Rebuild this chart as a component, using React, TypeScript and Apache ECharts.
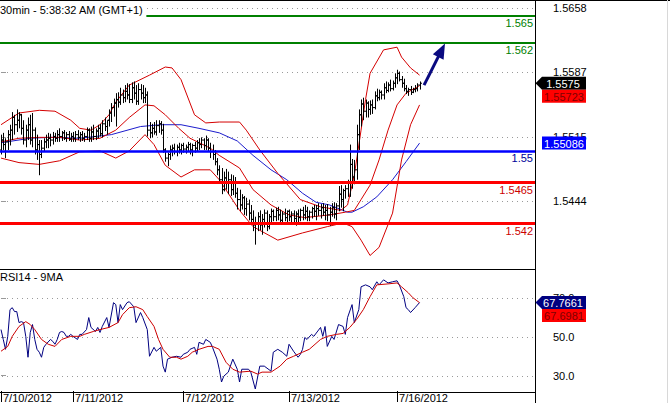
import React, { useEffect, useRef } from "react";
import * as echarts from "echarts";

const FONT = '"Liberation Sans", Arial, sans-serif';

const titleText = "30min - 5:38:32 AM (GMT+1)";
const rsiTitle = "RSI14 - 9MA";

const dates = ["7/10/2012", "7/11/2012", "7/12/2012", "7/13/2012", "7/16/2012"];
const dateBars = [0, 32, 81, 128, 176];

const priceTicks = [1.5444, 1.5515, 1.5587, 1.5658];
const rsiTicks = [30, 50, 70];

const levels = [1.565, 1.562, 1.55, 1.5465, 1.542];
const levelLabels = ["1.565", "1.562", "1.55", "1.5465", "1.542"];
const levelColors = ["#008000", "#008000", "#0000ff", "#ff0000", "#ff0000"];
const levelTextColors = ["#008000", "#008000", "#000099", "#cc0000", "#cc0000"];
const levelWidths = [2, 2, 2.5, 3, 3];

// open, high, low, close (30 min bars)
const ohlc: number[][] = [
  [1.5501, 1.5518, 1.5496, 1.5512], [1.5512, 1.552, 1.5501, 1.5507], [1.5507, 1.5514, 1.5492, 1.551],
  [1.551, 1.5523, 1.5501, 1.5518], [1.5518, 1.5529, 1.5506, 1.5523], [1.5523, 1.5543, 1.5512, 1.5537],
  [1.5537, 1.554, 1.5518, 1.5529], [1.5529, 1.5546, 1.5521, 1.5534], [1.5534, 1.5543, 1.5525, 1.554],
  [1.554, 1.5541, 1.5518, 1.5525], [1.5525, 1.5534, 1.5507, 1.5512], [1.5512, 1.5529, 1.5504, 1.5523],
  [1.5523, 1.5537, 1.5512, 1.5529], [1.5529, 1.554, 1.5507, 1.5512], [1.5512, 1.5542, 1.5504, 1.5523],
  [1.5523, 1.5526, 1.5496, 1.5501], [1.5501, 1.5518, 1.549, 1.5507], [1.5507, 1.5512, 1.5473, 1.5496],
  [1.5496, 1.5512, 1.5492, 1.5503], [1.5503, 1.5514, 1.5499, 1.551], [1.551, 1.5518, 1.5503, 1.5512],
  [1.5512, 1.552, 1.5503, 1.5514], [1.5514, 1.5519, 1.5505, 1.5512], [1.5512, 1.5521, 1.5507, 1.5516],
  [1.5516, 1.552, 1.551, 1.5514], [1.5514, 1.5523, 1.551, 1.5518], [1.5518, 1.5525, 1.551, 1.5516],
  [1.5516, 1.5522, 1.5511, 1.552], [1.552, 1.5523, 1.5512, 1.5514], [1.5514, 1.5521, 1.551, 1.5518],
  [1.5518, 1.5522, 1.5511, 1.5513], [1.5513, 1.552, 1.551, 1.5516], [1.5516, 1.5521, 1.551, 1.5514],
  [1.5514, 1.5522, 1.551, 1.5518], [1.5518, 1.5523, 1.5512, 1.5515], [1.5515, 1.5521, 1.551, 1.5518],
  [1.5518, 1.5522, 1.5511, 1.5514], [1.5514, 1.552, 1.551, 1.5516], [1.5516, 1.5526, 1.5512, 1.5523],
  [1.5523, 1.5525, 1.551, 1.5514], [1.5514, 1.5527, 1.551, 1.5521], [1.5521, 1.5529, 1.5512, 1.5516],
  [1.5516, 1.5525, 1.5512, 1.5522], [1.5522, 1.5529, 1.5514, 1.5525], [1.5525, 1.553, 1.5516, 1.5519],
  [1.5519, 1.5534, 1.5515, 1.553], [1.553, 1.5537, 1.5522, 1.5527], [1.5527, 1.5534, 1.5518, 1.5534],
  [1.5534, 1.5546, 1.5527, 1.5542], [1.5542, 1.5553, 1.5532, 1.5548], [1.5548, 1.5558, 1.5538, 1.5553],
  [1.5553, 1.5564, 1.5527, 1.5557], [1.5557, 1.5565, 1.5548, 1.5554], [1.5554, 1.557, 1.5551, 1.5562],
  [1.5562, 1.5568, 1.5553, 1.5559], [1.5559, 1.5573, 1.5554, 1.5566], [1.5566, 1.5575, 1.5557, 1.5562],
  [1.5562, 1.5574, 1.5553, 1.5557], [1.5557, 1.5576, 1.5553, 1.557], [1.557, 1.5577, 1.5557, 1.5564],
  [1.5564, 1.5573, 1.5551, 1.5555], [1.5555, 1.5575, 1.5551, 1.5568], [1.5568, 1.5574, 1.5557, 1.5564],
  [1.5564, 1.5573, 1.5553, 1.5559], [1.5559, 1.557, 1.5553, 1.5562], [1.5562, 1.5566, 1.5516, 1.5523],
  [1.5523, 1.5532, 1.5514, 1.552], [1.552, 1.553, 1.5515, 1.5525], [1.5525, 1.5532, 1.5518, 1.5521],
  [1.5521, 1.5534, 1.5517, 1.5528], [1.5528, 1.5534, 1.552, 1.553], [1.553, 1.5533, 1.5518, 1.5523],
  [1.5523, 1.553, 1.5498, 1.5501], [1.5501, 1.5503, 1.5488, 1.5492], [1.5492, 1.5498, 1.5483, 1.5496],
  [1.5496, 1.5506, 1.549, 1.5501], [1.5501, 1.5507, 1.5494, 1.5503], [1.5503, 1.5508, 1.5496, 1.5499],
  [1.5499, 1.5507, 1.5494, 1.5504], [1.5504, 1.5509, 1.5497, 1.5501], [1.5501, 1.5508, 1.5496, 1.5506],
  [1.5506, 1.5509, 1.5498, 1.5502], [1.5502, 1.5507, 1.5497, 1.5504], [1.5504, 1.551, 1.5499, 1.5507],
  [1.5507, 1.5509, 1.5496, 1.5501], [1.5501, 1.5508, 1.5494, 1.5506], [1.5506, 1.551, 1.5498, 1.5503],
  [1.5503, 1.5512, 1.5499, 1.5509], [1.5509, 1.5514, 1.5501, 1.5507], [1.5507, 1.5515, 1.5503, 1.5512],
  [1.5512, 1.5514, 1.5501, 1.5506], [1.5506, 1.5517, 1.5501, 1.5512], [1.5512, 1.5514, 1.5499, 1.5503],
  [1.5503, 1.5509, 1.5492, 1.5499], [1.5499, 1.5507, 1.549, 1.5496], [1.5496, 1.5501, 1.5484, 1.5488],
  [1.5488, 1.5492, 1.5473, 1.5479], [1.5479, 1.5484, 1.5466, 1.5468], [1.5468, 1.5481, 1.5452, 1.5457],
  [1.5457, 1.5477, 1.5455, 1.547], [1.547, 1.548, 1.5457, 1.5464], [1.5464, 1.5477, 1.5452, 1.5468],
  [1.5468, 1.5474, 1.545, 1.5457], [1.5457, 1.5473, 1.5451, 1.5466], [1.5466, 1.5471, 1.5448, 1.5453],
  [1.5453, 1.5459, 1.5435, 1.5446], [1.5446, 1.5457, 1.5433, 1.544], [1.544, 1.5452, 1.5435, 1.5448],
  [1.5448, 1.545, 1.5429, 1.5436], [1.5436, 1.5448, 1.5428, 1.5441], [1.5441, 1.5446, 1.5423, 1.5431],
  [1.5431, 1.544, 1.5418, 1.5424], [1.5424, 1.5434, 1.5411, 1.5418], [1.5418, 1.5427, 1.5396, 1.5419],
  [1.5419, 1.5432, 1.5411, 1.5427], [1.5427, 1.5434, 1.5412, 1.5418], [1.5418, 1.543, 1.5407, 1.5424],
  [1.5424, 1.5435, 1.5415, 1.5431], [1.5431, 1.5434, 1.5411, 1.5416], [1.5416, 1.543, 1.5413, 1.5427],
  [1.5427, 1.5436, 1.5419, 1.5433], [1.5433, 1.5435, 1.5422, 1.5427], [1.5427, 1.5437, 1.5422, 1.5434],
  [1.5434, 1.5438, 1.5423, 1.5429], [1.5429, 1.5435, 1.542, 1.5423], [1.5423, 1.5433, 1.5418, 1.543],
  [1.543, 1.5436, 1.5422, 1.5426], [1.5426, 1.5434, 1.542, 1.5433], [1.5433, 1.5435, 1.5422, 1.5427],
  [1.5427, 1.5433, 1.5418, 1.543], [1.543, 1.5434, 1.5421, 1.5425], [1.5425, 1.5433, 1.5417, 1.543],
  [1.543, 1.5435, 1.542, 1.5426], [1.5426, 1.5436, 1.5422, 1.5434], [1.5434, 1.5438, 1.5423, 1.5429],
  [1.5429, 1.544, 1.5424, 1.5433], [1.5433, 1.5438, 1.5422, 1.5427], [1.5427, 1.5434, 1.5422, 1.5432],
  [1.5432, 1.5438, 1.5425, 1.5436], [1.5436, 1.544, 1.5427, 1.5433], [1.5433, 1.544, 1.5423, 1.5436],
  [1.5436, 1.5442, 1.5428, 1.5434], [1.5434, 1.5441, 1.5425, 1.5437], [1.5437, 1.5442, 1.5428, 1.5432],
  [1.5432, 1.544, 1.5423, 1.5434], [1.5434, 1.5441, 1.5422, 1.5429], [1.5429, 1.5438, 1.5417, 1.5432],
  [1.5432, 1.5442, 1.5427, 1.5437], [1.5437, 1.5443, 1.5425, 1.543], [1.543, 1.5442, 1.5423, 1.5439],
  [1.5439, 1.5461, 1.5433, 1.5452], [1.5452, 1.5462, 1.5437, 1.5446], [1.5446, 1.5458, 1.5433, 1.5456],
  [1.5456, 1.5462, 1.5447, 1.5458], [1.5458, 1.5468, 1.5449, 1.5464], [1.5464, 1.5507, 1.5449, 1.5485],
  [1.5485, 1.5491, 1.5458, 1.5471], [1.5471, 1.549, 1.5463, 1.5479], [1.5479, 1.5529, 1.5468, 1.5518],
  [1.5518, 1.5546, 1.5501, 1.554], [1.554, 1.5557, 1.5527, 1.5552], [1.5552, 1.5559, 1.5534, 1.5544],
  [1.5544, 1.5557, 1.5537, 1.5553], [1.5553, 1.5555, 1.5537, 1.5546], [1.5546, 1.5556, 1.554, 1.5551],
  [1.5551, 1.5557, 1.5541, 1.5548], [1.5548, 1.5566, 1.5546, 1.5561], [1.5561, 1.5569, 1.5555, 1.5559],
  [1.5559, 1.5568, 1.5556, 1.5565], [1.5565, 1.5567, 1.5557, 1.5562], [1.5562, 1.5575, 1.5557, 1.557],
  [1.557, 1.5577, 1.5564, 1.5567], [1.5567, 1.5576, 1.5565, 1.5573], [1.5573, 1.5579, 1.5566, 1.5569],
  [1.5569, 1.5578, 1.5567, 1.5575], [1.5575, 1.5586, 1.557, 1.5581], [1.5581, 1.559, 1.5574, 1.5586],
  [1.5586, 1.5588, 1.5577, 1.5579], [1.5579, 1.5583, 1.557, 1.5575], [1.5575, 1.558, 1.5566, 1.5569],
  [1.5569, 1.5573, 1.5563, 1.5566], [1.5566, 1.557, 1.5561, 1.5568], [1.5568, 1.5572, 1.5562, 1.5565],
  [1.5565, 1.557, 1.5564, 1.5568], [1.5568, 1.5573, 1.5565, 1.5569], [1.5569, 1.5575, 1.5566, 1.5573],
  [1.5573, 1.5577, 1.5568, 1.5575],
];

// Bollinger bands and moving average: [bar, price]
const bbUpper = [
  [0, 1.5529], [8, 1.5542], [17, 1.5545], [24, 1.5544], [31, 1.5534], [35, 1.5525], [40, 1.5523],
  [44, 1.5529], [48, 1.554], [51, 1.5554], [57, 1.5573], [66, 1.5584], [73, 1.5593], [76, 1.5592],
  [80, 1.5579], [86, 1.554], [91, 1.5531], [97, 1.5532], [106, 1.5532], [109, 1.5523], [115, 1.5501],
  [123, 1.5475], [133, 1.5446], [142, 1.5438], [151, 1.5434], [154, 1.544], [157, 1.5473], [160, 1.5523],
  [162, 1.5557], [164, 1.5586], [170, 1.5612], [176, 1.5615], [178, 1.5604], [182, 1.5592], [186, 1.5584],
];
const bbMiddle = [
  [0, 1.551], [8, 1.5514], [17, 1.5515], [26, 1.5515], [35, 1.5512], [44, 1.5514], [51, 1.5523],
  [57, 1.5537], [64, 1.5551], [68, 1.555], [73, 1.554], [79, 1.5525], [84, 1.5514], [93, 1.5503],
  [97, 1.5495], [106, 1.5481], [112, 1.5457], [120, 1.544], [128, 1.5429], [135, 1.5426], [146, 1.5429],
  [153, 1.5432], [157, 1.5434], [160, 1.5446], [164, 1.5462], [168, 1.549], [172, 1.5523], [176, 1.5551],
  [180, 1.5564], [186, 1.55723],
];
const bbLower = [
  [0, 1.5492], [8, 1.5487], [17, 1.5485], [26, 1.5489], [35, 1.5499], [44, 1.55], [51, 1.5492],
  [57, 1.55], [64, 1.5518], [68, 1.5507], [73, 1.5484], [80, 1.5471], [86, 1.5479], [93, 1.5479],
  [97, 1.5468], [106, 1.5434], [112, 1.5416], [123, 1.5401], [134, 1.5409], [145, 1.5416], [152, 1.542],
  [156, 1.5416], [160, 1.5401], [164, 1.5384], [168, 1.5393], [174, 1.5431], [178, 1.549], [182, 1.5529],
  [186, 1.5551],
];
const maLine = [
  [0, 1.5509], [13, 1.5514], [22, 1.5515], [35, 1.5514], [49, 1.5518], [62, 1.5527], [71, 1.5529],
  [80, 1.5529], [88, 1.5525], [97, 1.552], [105, 1.5511], [112, 1.5495], [120, 1.5479], [127, 1.5468],
  [134, 1.5453], [140, 1.5443], [146, 1.544], [154, 1.5432], [156, 1.5432], [161, 1.5438], [167, 1.5449],
  [174, 1.5468], [180, 1.5488], [186, 1.55086],
];

// RSI(14) and its 9 period MA: [bar, value]
const rsi = [
  [0, 53.8], [1, 48.7], [2, 43.6], [3, 50.3], [4, 64.1], [5, 65.1], [6, 63.1], [7, 63.1], [8, 57.4],
  [9, 57.9], [10, 57.4], [11, 50.3], [12, 39.5], [13, 52.3], [14, 56.4], [15, 48.7], [16, 43.6],
  [17, 42.1], [18, 39.5], [19, 44.6], [20, 46.2], [22, 48.7], [23, 47.7], [24, 46.2], [25, 48.7],
  [26, 52.3], [27, 52.8], [28, 52.3], [29, 50.3], [30, 50.3], [31, 51.3], [32, 50.3], [34, 48.7],
  [35, 51.3], [36, 51.3], [38, 53.8], [39, 60], [40, 54.9], [42, 52.8], [43, 54.9], [44, 52.3],
  [45, 55.4], [47, 60], [48, 54.9], [50, 67.7], [51, 66.7], [52, 57.4], [53, 66.7], [54, 64.1],
  [56, 67.7], [57, 68.2], [59, 65.6], [60, 57.4], [62, 62.6], [63, 60], [65, 53.8], [66, 40],
  [68, 44.6], [69, 42.6], [71, 44.6], [72, 34.9], [73, 31.8], [74, 38.5], [76, 39.5], [78, 40],
  [80, 39.5], [81, 41], [83, 42.1], [84, 43.6], [86, 44.6], [87, 41], [88, 47.2], [90, 46.2],
  [91, 48.7], [93, 47.2], [94, 44.6], [96, 38.5], [97, 33.3], [98, 26.7], [99, 29.7], [101, 31.8],
  [103, 38.5], [105, 33.3], [106, 26.7], [107, 33.3], [110, 33.3], [111, 31.8], [113, 23.1],
  [115, 34.9], [117, 34.9], [120, 32.3], [121, 42.1], [123, 43.6], [125, 42.1], [127, 40], [128, 46.2],
  [130, 42.6], [132, 39.5], [133, 40.9], [134, 43.6], [135, 49.7], [136, 48.7], [138, 51.3],
  [139, 50.3], [142, 54.9], [143, 50.3], [144, 55.4], [145, 45.1], [147, 50.3], [148, 48.7],
  [150, 56.4], [152, 55.4], [153, 51.3], [154, 60], [156, 66.7], [157, 57.4], [159, 64.1], [160, 75.9],
  [162, 76.9], [164, 75.9], [165, 74.4], [167, 78.5], [168, 76.9], [170, 79.5], [172, 77.9],
  [174, 78.5], [176, 79], [177, 76.9], [179, 70.8], [180, 65.1], [181, 64.1], [182, 62.6], [184, 65.1],
  [186, 67.7661],
];
const rsiMa = [
  [0, 42.6], [3, 45.1], [5, 50.3], [8, 55.4], [11, 57.9], [13, 56.4], [15, 53.8], [18, 48.7],
  [21, 46.2], [24, 45.1], [27, 48.7], [31, 50.3], [35, 50.3], [37, 51.3], [41, 52.8], [44, 53.8],
  [48, 54.9], [52, 57.4], [54, 61.5], [57, 65.1], [60, 65.6], [63, 64.1], [65, 60.5], [68, 55.4],
  [70, 48.7], [72, 43.6], [75, 39.5], [78, 39.5], [80, 38.5], [83, 40], [85, 42.1], [88, 43.6],
  [92, 45.1], [94, 45.1], [97, 43.6], [100, 36.9], [103, 33.3], [106, 31.8], [111, 32.3], [114, 30.8],
  [116, 31.8], [120, 31.8], [124, 34.9], [127, 38.5], [130, 40], [134, 42.1], [137, 43.6], [142, 48.7],
  [145, 50.3], [149, 51.3], [152, 51.8], [155, 54.9], [158, 59], [161, 64.1], [164, 70.8], [167, 76.9],
  [172, 77.4], [176, 77.9], [178, 75.9], [181, 72.8], [183, 70.3], [186, 67.6981],
];

const arrowFrom = [188, 1.5573];
const arrowTo = [197.3, 1.5619];

export default function App() {
  const ref = useRef<HTMLDivElement>(null);
  useEffect(() => {
    if (!ref.current) return;
    const chart = echarts.init(ref.current, null, { renderer: "svg" });
    const txt = { fontSize: 11, color: "#000", fontFamily: FONT };
    const option: any = {
      animation: false,
      backgroundColor: "#fff",
      title: [
        {
          text: titleText, left: 0, top: 3, padding: [1, 3, 2, 0], backgroundColor: "#fff", z: 20,
          textStyle: { ...txt, fontWeight: "normal" },
        },
        {
          text: rsiTitle, left: 0, top: 271, padding: [0, 3, 1, 0], backgroundColor: "#fff", z: 20,
          textStyle: { ...txt, fontWeight: "normal" },
        },
      ],
      grid: [
        { left: 0, top: 3, width: 535, height: 266 },
        { left: 0, top: 269, width: 535, height: 123 },
      ],
      xAxis: [
        { type: "value", gridIndex: 0, min: -0.44, max: 237.3, show: false },
        {
          type: "value", gridIndex: 1, min: -0.44, max: 237.3,
          axisLine: { show: false }, splitLine: { show: false },
          axisTick: { show: true, customValues: dateBars, length: 11, lineStyle: { color: "#000" } },
          axisLabel: {
            customValues: dateBars, ...txt, align: "left", margin: 1, padding: [0, 0, 0, 2],
            formatter: (v: number) => dates[dateBars.indexOf(v)],
          },
        },
      ],
      yAxis: [
        {
          type: "value", gridIndex: 0, position: "right", min: 1.5369, max: 1.5664,
          axisLine: { show: false }, splitLine: { show: false },
          axisTick: { show: true, customValues: priceTicks, length: 5, lineStyle: { color: "#999" } },
          axisLabel: { customValues: priceTicks, ...txt, margin: 18, formatter: (v: number) => v.toFixed(4) },
        },
        {
          type: "value", gridIndex: 1, position: "right", min: 22.05, max: 85.1,
          axisLine: { show: false }, splitLine: { show: false },
          axisTick: { show: true, customValues: rsiTicks, length: 5, lineStyle: { color: "#999" } },
          axisLabel: { customValues: rsiTicks, ...txt, margin: 18, formatter: (v: number) => v.toFixed(1) },
        },
      ],
      series: [
        {
          type: "line", xAxisIndex: 0, yAxisIndex: 0, data: maLine, symbol: "none", z: 2,
          lineStyle: { color: "#1c1ccc", width: 1 },
        },
        {
          type: "line", xAxisIndex: 0, yAxisIndex: 0, data: bbUpper, symbol: "none", z: 3,
          lineStyle: { color: "#d40000", width: 1 },
        },
        {
          type: "line", xAxisIndex: 0, yAxisIndex: 0, data: bbMiddle, symbol: "none", z: 3,
          lineStyle: { color: "#d40000", width: 1 },
        },
        {
          type: "line", xAxisIndex: 0, yAxisIndex: 0, data: bbLower, symbol: "none", z: 3,
          lineStyle: { color: "#d40000", width: 1 },
          markLine: {
            silent: true, symbol: ["none", "none"], precision: 6,
            data: levels.map((v, k) => ({
              yAxis: v,
              lineStyle: { color: levelColors[k], width: levelWidths[k], type: "solid" },
              label: {
                show: true, position: "insideEndBottom", distance: 2, formatter: levelLabels[k],
                color: levelTextColors[k], fontSize: 11, fontFamily: FONT,
              },
            })),
          },
        },
        {
          type: "custom", xAxisIndex: 0, yAxisIndex: 0, z: 4,
          data: ohlc.map((d, i) => [i, d[0], d[1], d[2], d[3]]),
          encode: { x: 0, y: [1, 2, 3, 4] },
          renderItem: (params: any, api: any) => {
            const i = api.value(0);
            const pO = api.coord([i, api.value(1)]);
            const pH = api.coord([i, api.value(2)]);
            const pL = api.coord([i, api.value(3)]);
            const pC = api.coord([i, api.value(4)]);
            const x = Math.round(pH[0]) + 0.5;
            const st = { stroke: "#000", lineWidth: 1 };
            return {
              type: "group",
              children: [
                { type: "line", shape: { x1: x, y1: pH[1], x2: x, y2: pL[1] }, style: st },
                { type: "line", shape: { x1: x - 1.5, y1: pO[1], x2: x, y2: pO[1] }, style: st },
                { type: "line", shape: { x1: x, y1: pC[1], x2: x + 1.5, y2: pC[1] }, style: st },
              ],
            };
          },
        },
        {
          type: "line", xAxisIndex: 1, yAxisIndex: 1, data: rsi, symbol: "none", z: 3,
          lineStyle: { color: "#000080", width: 1 },
        },
        {
          type: "line", xAxisIndex: 1, yAxisIndex: 1, data: rsiMa, symbol: "none", z: 4,
          lineStyle: { color: "#cc0000", width: 1 },
        },
      ],
    };
    chart.setOption(option);

    const yP = (v: number) => chart.convertToPixel({ yAxisIndex: 0 } as any, v) as unknown as number;
    const yR = (v: number) => chart.convertToPixel({ yAxisIndex: 1 } as any, v) as unknown as number;
    const R = 535.5;
    const tagFont = `11px ${FONT}`;
    const g: any[] = [];
    const frame = { stroke: "#000", lineWidth: 1 };

    // dotted grid lines at the tick values
    const dot = { stroke: "#9a9a9a", lineWidth: 1, lineDash: [1, 4], fill: null };
    priceTicks.forEach((v) => {
      const y = Math.round(yP(v)) + 0.5;
      g.push({ type: "line", z: 1, silent: true, shape: { x1: 2, y1: y, x2: 535, y2: y }, style: dot });
    });
    rsiTicks.forEach((v) => {
      const y = Math.round(yR(v)) + 0.5;
      g.push({ type: "line", z: 1, silent: true, shape: { x1: 2, y1: y, x2: 535, y2: y }, style: dot });
    });

    g.push({ type: "line", z: 50, shape: { x1: 0, y1: 0.5, x2: 670, y2: 0.5 }, style: frame });
    g.push({ type: "line", z: 50, shape: { x1: R, y1: 0, x2: R, y2: 403 }, style: frame });
    g.push({ type: "line", z: 50, shape: { x1: 0, y1: 269.5, x2: R, y2: 269.5 }, style: frame });
    g.push({ type: "line", z: 50, shape: { x1: 0, y1: 392.5, x2: R, y2: 392.5 }, style: frame });
    g.push({ type: "line", z: 50, shape: { x1: 667.5, y1: 0, x2: 667.5, y2: 403 }, style: { stroke: "#d8d8d8", lineWidth: 1 } });

    const arrowTag = (y: number, fill: string, text: string, color: string) => {
      g.push({
        type: "polygon", z: 60,
        shape: { points: [[R, y], [542, y - 6.5], [586, y - 6.5], [586, y + 6.5], [542, y + 6.5]] },
        style: { fill },
      });
      g.push({
        type: "text", z: 61,
        style: { text, x: 563, y: y + 0.5, fill: color, font: tagFont, align: "center", verticalAlign: "middle", textAlign: "center", textVerticalAlign: "middle" },
      });
    };
    const boxTag = (y: number, fill: string, text: string, color: string) => {
      g.push({ type: "rect", z: 60, shape: { x: 542, y: y - 6.5, width: 44, height: 13 }, style: { fill } });
      g.push({
        type: "text", z: 61,
        style: { text, x: 564, y: y + 0.5, fill: color, font: tagFont, align: "center", verticalAlign: "middle", textAlign: "center", textVerticalAlign: "middle" },
      });
    };
    const lastClose = ohlc[ohlc.length - 1][3];
    const lastMid = bbMiddle[bbMiddle.length - 1][1];
    const lastMa = maLine[maLine.length - 1][1];
    const lastRsi = rsi[rsi.length - 1][1];
    const lastRsiMa = rsiMa[rsiMa.length - 1][1];
    const yc = yP(lastClose);
    arrowTag(yc, "#000", lastClose.toFixed(4), "#fff");
    boxTag(Math.max(yP(lastMid), yc + 13), "#ff0000", lastMid.toFixed(5), "#800000");
    boxTag(yP(lastMa), "#0000ff", lastMa.toFixed(5), "#fff");
    const yr = yR(lastRsi);
    arrowTag(yr, "#000080", lastRsi.toFixed(4), "#fff");
    boxTag(Math.max(yR(lastRsiMa), yr + 13), "#ff0000", lastRsiMa.toFixed(4), "#800000");

    // trend arrow
    const p0 = chart.convertToPixel({ gridIndex: 0 } as any, arrowFrom) as unknown as number[];
    const p1 = chart.convertToPixel({ gridIndex: 0 } as any, arrowTo) as unknown as number[];
    const dx = p1[0] - p0[0];
    const dy = p1[1] - p0[1];
    const len = Math.sqrt(dx * dx + dy * dy);
    const ux = dx / len;
    const uy = dy / len;
    const hl = 15;
    const hw = 6;
    const bx = p1[0] - ux * hl;
    const by = p1[1] - uy * hl;
    g.push({
      type: "line", z: 55, shape: { x1: p0[0], y1: p0[1], x2: bx + ux * 2, y2: by + uy * 2 },
      style: { stroke: "#0a0a80", lineWidth: 3 },
    });
    g.push({
      type: "polygon", z: 55,
      shape: { points: [[p1[0], p1[1]], [bx - uy * hw, by + ux * hw], [bx + uy * hw, by - ux * hw]] },
      style: { fill: "#0a0a80" },
    });
    chart.setOption({ graphic: g });
    return () => chart.dispose();
  }, []);
  return <div ref={ref} style={{ width: 670, height: 403, position: "absolute", left: 0, top: 0 }} />;
}
